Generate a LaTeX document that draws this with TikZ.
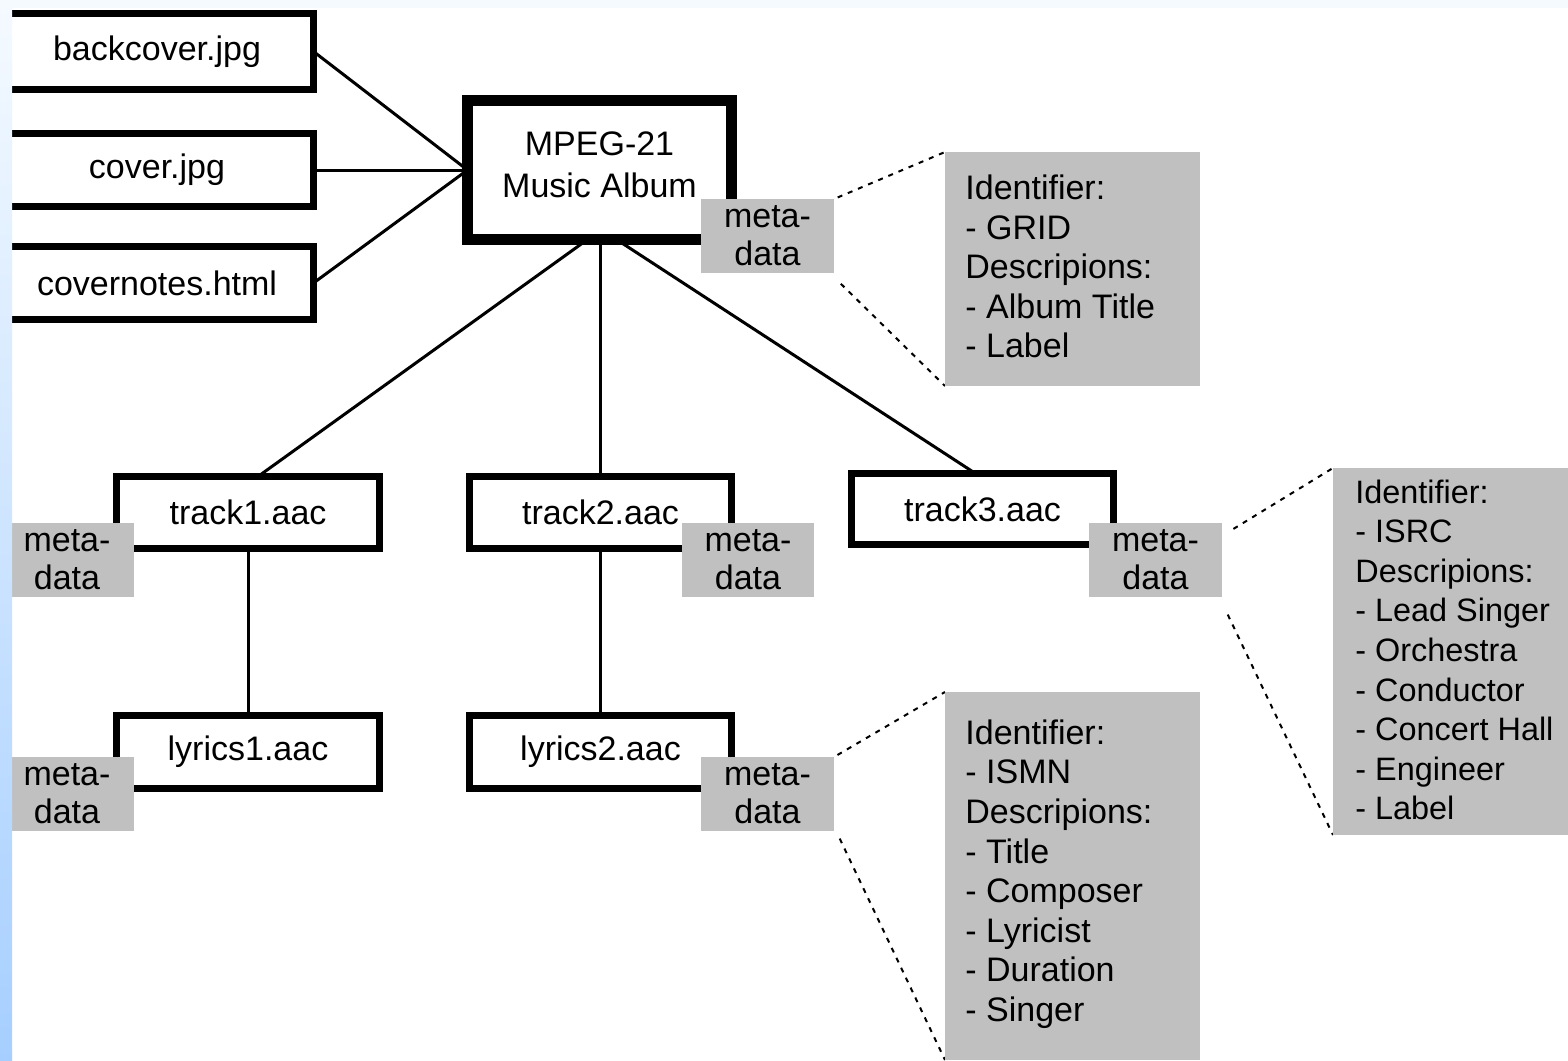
\documentclass[tikz,border=0pt]{standalone}
\usepackage{fontspec}
\setmainfont{Liberation Sans}
\usetikzlibrary{calc}
\pgfdeclarelayer{bg}
\pgfdeclarelayer{edges}
\pgfdeclarelayer{front}
\pgfsetlayers{bg,edges,main,front}
\definecolor{metagray}{HTML}{C0C0C0}
\definecolor{striptop}{HTML}{F5FAFF}
\definecolor{stripbot}{HTML}{A6CFFF}
\begin{document}
\begin{tikzpicture}[x=0.5pt,y=-0.5pt,
  txt/.style={font=\fontsize{17}{19.8}\selectfont},
  filebox/.style={draw, fill=white, line width=3.5pt, inner sep=0pt, outer sep=0pt, align=center, txt},
  albumbox/.style={filebox, line width=5.5pt, font=\fontsize{17}{21}\selectfont, text depth=5pt},
  metabox/.style={fill=metagray, inner sep=0pt, outer sep=0pt, minimum width=66.5pt, minimum height=37pt, align=center, font=\fontsize{17}{19}\selectfont},
  descbox/.style={fill=metagray, inner sep=0pt, outer sep=0pt},
  desctext/.style={anchor=west, align=left, inner sep=0pt, txt},
  link/.style={line width=1.5pt},
  dotlink/.style={line width=1pt, dash pattern=on 2.5pt off 3pt, shorten <=2pt}
]
\useasboundingbox (0,0) rectangle (1568,1060);
\begin{pgfonlayer}{bg}
  \fill[white] (0,0) rectangle (1568,1060);
  \fill[striptop] (0,0) rectangle (1568,8);
\end{pgfonlayer}

% file boxes
\node[filebox, minimum width=156.5pt, minimum height=38pt] (bc) at (157,51.5) {backcover.jpg};
\node[filebox, minimum width=156.5pt, minimum height=36.5pt] (cv) at (157,170) {cover.jpg};
\node[filebox, minimum width=156.5pt, minimum height=36.5pt] (cn) at (157,283) {covernotes.html};
\node[albumbox, minimum width=132pt, minimum height=69.5pt] (album) at (599.5,170) {MPEG-21\\Music Album};
\node[filebox, minimum width=131.5pt, minimum height=36pt] (t1) at (248,512.5) {track1.aac};
\node[filebox, minimum width=131pt, minimum height=36pt] (t2) at (600.5,512.5) {track2.aac};
\node[filebox, minimum width=131pt, minimum height=35.5pt] (t3) at (982.5,509) {track3.aac};
\node[filebox, minimum width=131.5pt, minimum height=36.5pt] (l1) at (248,752) {lyrics1.aac};
\node[filebox, minimum width=131pt, minimum height=36.5pt] (l2) at (600.5,752) {lyrics2.aac};

% metadata tags
\node[metabox] (m0) at (767.5,236) {meta-\\data};
\node[metabox, minimum width=67pt] (m1) at (67,560) {meta-\\data};
\node[metabox, minimum width=66pt] (m2) at (748,560) {meta-\\data};
\node[metabox] (m3) at (1155.5,560) {meta-\\data};
\node[metabox, minimum width=67pt] (m4) at (67,794) {meta-\\data};
\node[metabox] (m5) at (767.5,794) {meta-\\data};

% description boxes
\node[descbox, minimum width=127.5pt, minimum height=117pt] (d0) at (1072.5,269) {};
\node[desctext] (d0t) at (965,266.5) {Identifier:\\- GRID\\Descripions:\\- Album Title\\- Label};
\node[descbox, minimum width=123.5pt, minimum height=183.5pt] (d1) at (1456.5,651.5) {};
\node[desctext, font=\fontsize{16.2}{19.8}\selectfont] (d1t) at (1355,650) {Identifier:\\- ISRC\\Descripions:\\- Lead Singer\\- Orchestra\\- Conductor\\- Concert Hall\\- Engineer\\- Label};
\node[descbox, minimum width=127.5pt, minimum height=184pt] (d2) at (1072.5,876) {};
\node[desctext] (d2t) at (965,874) {Identifier:\\- ISMN\\Descripions:\\- Title\\- Composer\\- Lyricist\\- Duration\\- Singer};

% connectors
\begin{pgfonlayer}{edges}
  \draw[link] (bc.east) -- (album.west);
  \draw[link] (cv.east) -- (album.west);
  \draw[link] (cn.east) -- (album.west);
  \draw[link] ($(album.south)+(-12,0)$) -- ($(t1.north)+(10,0)$);
  \draw[link] (t2.north |- album.south) -- (t2.north);
  \draw[link] ($(album.south)+(17,0)$) -- ($(t3.north)+(-7,0)$);
  \draw[link] (t1.south) -- (l1.north);
  \draw[link] (t2.south) -- (l2.north);
  \draw[dotlink] (m0.north east) -- (d0.north west);
  \draw[dotlink] ($(m0.south east)+(4,8)$) -- (d0.south west);
  \draw[dotlink] ($(m3.north east)+(8,8)$) -- (d1.north west);
  \draw[dotlink] ($(m3.south east)+(4,14)$) -- (d1.south west);
  \draw[dotlink] (m5.north east) -- (d2.north west);
  \draw[dotlink] ($(m5.south east)+(4,4)$) -- (d2.south west);
\end{pgfonlayer}

\begin{pgfonlayer}{front}
  \shade[top color=striptop, bottom color=stripbot] (0,0) rectangle (12,1060);
\end{pgfonlayer}
\end{tikzpicture}
\end{document}
